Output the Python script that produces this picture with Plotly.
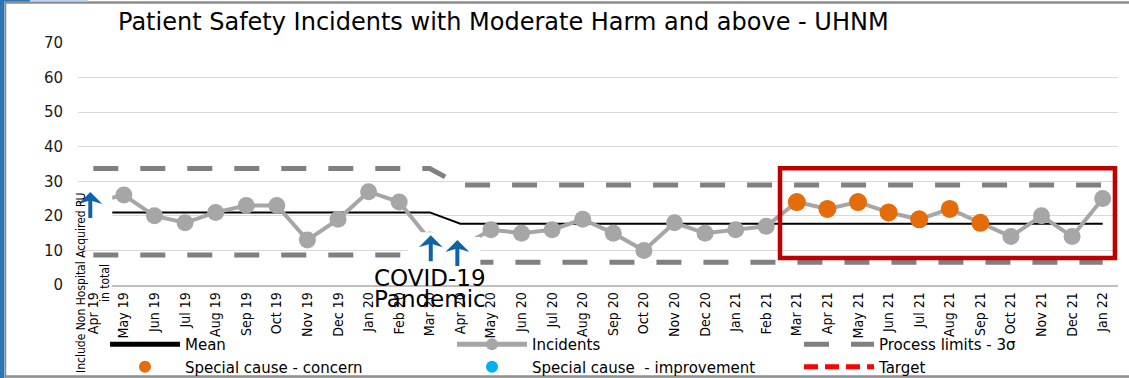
import plotly.graph_objects as go

# ---- data -------------------------------------------------------------
months = [
    "Apr 19", "May 19", "Jun 19", "Jul 19", "Aug 19", "Sep 19", "Oct 19", "Nov 19",
    "Dec 19", "Jan 20", "Feb 20", "Mar 20", "Apr 20", "May 20", "Jun 20", "Jul 20",
    "Aug 20", "Sep 20", "Oct 20", "Nov 20", "Dec 20", "Jan 21", "Feb 21", "Mar 21",
    "Apr 21", "May 21", "Jun 21", "Jul 21", "Aug 21", "Sep 21", "Oct 21", "Nov 21",
    "Dec 21", "Jan 22",
]
incidents = [
    24, 26, 20, 18, 21, 23, 23, 13, 19, 27, 24, 13,
    11, 16, 15, 16, 19, 15, 10, 18, 15, 16, 17,
    24, 22, 24, 21, 19, 22, 18, 14, 20, 14, 25,
]
concern_months = ["Mar 21", "Apr 21", "May 21", "Jun 21", "Jul 21", "Aug 21", "Sep 21"]
improvement_months = []

# SPC phases (recalculated from Apr 20)
phase_start = ["Apr 19", "Apr 20"]
phase_mean = [21.0, 17.7]
phase_upper = [33.7, 28.9]
phase_lower = [8.7, 6.6]

TITLE = "Patient Safety Incidents with Moderate Harm and above - UHNM"


def phase_series(values):
    out = []
    starts = [months.index(m) for m in phase_start]
    for i in range(len(months)):
        k = max(j for j, s in enumerate(starts) if s <= i)
        out.append(values[k])
    return out


mean_line = phase_series(phase_mean)
upper_line = phase_series(phase_upper)
lower_line = phase_series(phase_lower)
concern_y = [v if m in concern_months else None for m, v in zip(months, incidents)]

# ---- geometry ---------------------------------------------------------
W, H = 1129, 378
ML, MR, MT, MB = 78, 11, 43, 93
PW, PH = W - ML - MR, H - MT - MB


def px_x(px):
    return (px - ML) / PW


def px_y(py):
    return (H - MB - py) / PH


GRAY_LIMIT = "#808080"
fig = go.Figure()

fig.add_trace(go.Scatter(
    x=months, y=upper_line, mode="lines", name="Process limits - 3σ",
    legendgroup="limits", legendrank=3,
    line=dict(color=GRAY_LIMIT, width=5, dash="25px,22px"),
))
fig.add_trace(go.Scatter(
    x=months, y=lower_line, mode="lines", name="Process limits - 3σ",
    legendgroup="limits", showlegend=False,
    line=dict(color=GRAY_LIMIT, width=5, dash="25px,22px"),
))
fig.add_trace(go.Scatter(
    x=months, y=mean_line, mode="lines", name="Mean", legendrank=1,
    line=dict(color="#000000", width=2),
))
fig.add_trace(go.Scatter(
    x=months, y=incidents, mode="lines+markers", name="Incidents", legendrank=2,
    line=dict(color="#A6A6A6", width=4),
    marker=dict(color="#A6A6A6", size=17),
))
fig.add_trace(go.Scatter(
    x=months, y=concern_y, mode="markers", name="Special cause - concern", legendrank=4,
    marker=dict(color="#E46C0A", size=18),
))
fig.add_trace(go.Scatter(
    x=improvement_months or [None], y=[None], mode="markers",
    name="Special cause  - improvement", legendrank=5,
    marker=dict(color="#00B0F0", size=18),
))
fig.add_trace(go.Scatter(
    x=[None], y=[None], mode="lines", name="Target", legendrank=6,
    line=dict(color="#FF0000", width=3, dash="14px,7px"),
))

shapes = []
# frame around the panel
shapes.append(dict(type="rect", xref="paper", yref="paper",
                   x0=px_x(0), x1=px_x(4.5), y0=px_y(H), y1=px_y(0),
                   fillcolor="#2E75B6", line=dict(width=0), layer="above"))
shapes.append(dict(type="line", xref="paper", yref="paper",
                   x0=px_x(5), x1=px_x(W), y0=px_y(2.5), y1=px_y(2.5),
                   line=dict(color="#8C8C8C", width=2.5), layer="above"))
shapes.append(dict(type="line", xref="paper", yref="paper",
                   x0=px_x(5.5), x1=px_x(5.5), y0=px_y(H), y1=px_y(2),
                   line=dict(color="#8C8C8C", width=1.5), layer="above"))
shapes.append(dict(type="line", xref="paper", yref="paper",
                   x0=px_x(5), x1=px_x(W), y0=px_y(376.5), y1=px_y(376.5),
                   line=dict(color="#8C8C8C", width=2.5), layer="above"))
shapes.append(dict(type="rect", xref="paper", yref="paper",
                   x0=px_x(0), x1=px_x(30), y0=px_y(1.5), y1=px_y(0),
                   fillcolor="#2E75B6", line=dict(width=0), layer="above"))
shapes.append(dict(type="rect", xref="paper", yref="paper",
                   x0=px_x(30), x1=px_x(88), y0=px_y(1.5), y1=px_y(0),
                   fillcolor="#BDD7EE", line=dict(width=0), layer="above"))
# text box behind the first category note hides the axis line there
shapes.append(dict(type="rect", xref="paper", yref="paper",
                   x0=px_x(72), x1=px_x(112), y0=px_y(290), y1=px_y(280),
                   fillcolor="white", line=dict(width=0), layer="above"))

# highlight box over the recent run of special-cause points
shapes.append(dict(type="rect", xref="x", yref="y",
                   x0=22.45, x1=33.4, y0=7.8, y1=33.8,
                   line=dict(color="#C00000", width=4.5), layer="above"))

# event arrows: (category, base value, box offsets px, shaft offset px)
ARROW_BLUE = "#0F64A8"
arrows = [
    ("Apr 19", 19.4, (-22, 19), -3),
    ("Mar 20", 6.9, (-22, 16), 1),
    ("Apr 20", 5.5, (-15, 20), -3),
]
for cat, base, (bx0, bx1), dx in arrows:
    xi = months.index(cat)
    shapes.append(dict(type="rect", xref="x", yref="y",
                       xsizemode="pixel", ysizemode="pixel",
                       xanchor=xi, yanchor=base,
                       x0=bx0, x1=bx1, y0=-2, y1=29,
                       fillcolor="white", line=dict(width=0), layer="above"))
    path = (f"M{dx-2},0 L{dx-2},17 L{dx-12},14 L{dx},26 L{dx+12},14 "
            f"L{dx+2},17 L{dx+2},0 Z")
    shapes.append(dict(type="path", xref="x", yref="y",
                       xsizemode="pixel", ysizemode="pixel",
                       xanchor=xi, yanchor=base, path=path,
                       fillcolor=ARROW_BLUE, line=dict(width=0), layer="above"))

NARROW = "Liberation Sans Narrow, DejaVu Sans Condensed, Arial Narrow, sans-serif"
annotations = [
    dict(text="COVID-19", xref="x", yref="paper", x=months.index("Mar 20"),
         y=px_y(278), showarrow=False, xanchor="center", yanchor="middle",
         font=dict(family="DejaVu Sans", size=23, color="#000000")),
    dict(text="Pandemic", xref="x", yref="paper", x=months.index("Mar 20"),
         y=px_y(299), showarrow=False, xanchor="center", yanchor="middle",
         font=dict(family="DejaVu Sans", size=23, color="#000000")),
    dict(text="Include Non Hospital Acquired PU", xref="paper", yref="paper",
         x=px_x(81), y=px_y(283), showarrow=False, textangle=-90,
         xanchor="center", yanchor="middle",
         font=dict(family=NARROW, size=12, color="#000000")),
    dict(text="in total", xref="paper", yref="paper",
         x=px_x(105), y=px_y(283), showarrow=False, textangle=-90,
         xanchor="center", yanchor="middle",
         font=dict(family=NARROW, size=12, color="#000000")),
]

fig.update_layout(
    width=W, height=H,
    margin=dict(l=ML, r=MR, t=MT, b=MB, pad=0),
    paper_bgcolor="white", plot_bgcolor="white",
    title=dict(text=TITLE, xref="container", yref="container",
               x=118 / W, xanchor="left", y=1 - 22 / H, yanchor="middle",
               font=dict(family="DejaVu Sans", size=24, color="#000000")),
    xaxis=dict(type="category", categoryorder="array", categoryarray=months,
               range=[-0.5, len(months) - 0.5], tickangle=-90,
               tickfont=dict(family=NARROW, size=14, color="#000000"),
               showgrid=False, zeroline=False, showline=True,
               linecolor="#BFBFBF", linewidth=1.5, ticks="", automargin=False),
    yaxis=dict(range=[0, 70], tickvals=list(range(0, 71, 10)),
               showgrid=True, gridcolor="#D9D9D9", gridwidth=1,
               zeroline=False, showline=False, ticks="",
               ticklabelstandoff=14, automargin=False,
               tickfont=dict(family="DejaVu Sans", size=15, color="#1A1A1A")),
    legend=dict(orientation="h", xref="container", yref="container",
                x=105 / W, xanchor="left",
                y=1 - 328 / H, yanchor="top",
                itemwidth=70, entrywidth=262, entrywidthmode="pixels",
                itemsizing="constant", traceorder="normal",
                bgcolor="rgba(0,0,0,0)",
                font=dict(family="DejaVu Sans", size=15, color="#000000")),
    shapes=shapes,
    annotations=annotations,
    showlegend=True,
)

fig.write_html("out.html")
